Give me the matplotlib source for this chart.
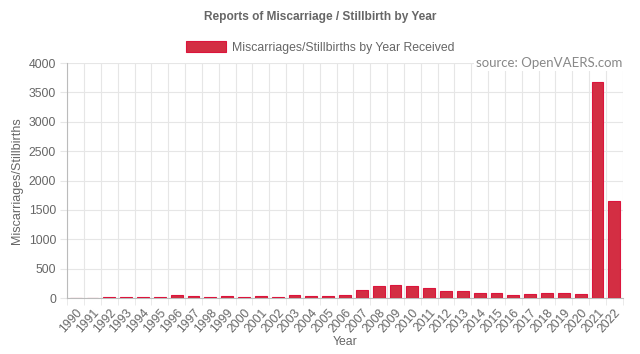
import matplotlib
matplotlib.use('Agg')
import matplotlib.pyplot as plt
import numpy as np
from matplotlib.patches import Patch

years = [str(y) for y in range(1990, 2023)]
reports = [8, 5, 17, 12, 12, 15, 45, 35, 23, 28, 17, 35, 25, 45, 40,
           32, 57, 136, 210, 227, 204, 165, 119, 117, 91, 79, 57, 74, 79, 85, 62,
           3670, 1644]

FILL = '#d32e43'
EDGE = '#dc143c'
TXT = '#666666'
GRID = '#e6e6e6'

plt.rcParams['font.family'] = ['Liberation Sans', 'DejaVu Sans']

fig = plt.figure(figsize=(6.4, 3.54), dpi=100)
ax = fig.add_axes([0.105, 0.158, 0.868, 0.664])

x = np.arange(len(years))
ax.bar(x, reports, width=0.7, color=FILL, edgecolor=EDGE, linewidth=0.8, zorder=3)

ax.set_xlim(-0.5, len(years) - 0.5)
ax.set_ylim(0, 4000)
ax.set_yticks(range(0, 4001, 500))
ax.set_xticks(x)
ax.set_xticklabels(years, rotation=48, ha='right', rotation_mode='anchor')
ax.set_xticks(np.arange(-0.5, len(years), 1), minor=True)

ax.tick_params(axis='x', which='major', length=0, pad=6, labelsize=8.8, labelcolor=TXT)
ax.tick_params(axis='x', which='minor', length=5, color=GRID)
ax.tick_params(axis='y', length=5, color=GRID, labelsize=8.8, labelcolor=TXT, pad=3)

ax.grid(True, axis='y', color=GRID, lw=0.8, zorder=0)
ax.grid(True, axis='x', which='minor', color=GRID, lw=0.8, zorder=0)

for s in ['top', 'right']:
    ax.spines[s].set_visible(False)
ax.spines['left'].set_color('#bbbbbb')
ax.spines['bottom'].set_color('#bbbbbb')

ax.set_xlabel('Year', color=TXT, fontsize=8.8, labelpad=1)
ax.set_ylabel('Miscarriages/Stillbirths', color=TXT, fontsize=9, labelpad=4)

fig.text(0.5, 0.952, 'Reports of Miscarriage / Stillbirth by Year', ha='center', va='center',
         fontsize=8.6, fontweight='bold', color=TXT)

leg = fig.legend(handles=[Patch(facecolor=FILL, edgecolor=EDGE, linewidth=0.8)],
                 labels=['Miscarriages/Stillbirths by Year Received'],
                 loc='center', bbox_to_anchor=(0.5, 0.866), frameon=False,
                 fontsize=8.8, handlelength=3.3, handleheight=1.0, handletextpad=0.5)
for t in leg.get_texts():
    t.set_color(TXT)

ax.text(1.0, 1.0, 'source: OpenVAERS.com', transform=ax.transAxes, ha='right', va='center',
        fontsize=9.5, color='#888888', family=['Lato', 'DejaVu Sans'],
        bbox=dict(facecolor='white', edgecolor='none', pad=1.5), zorder=5)

fig.savefig('out.png', dpi=100)
